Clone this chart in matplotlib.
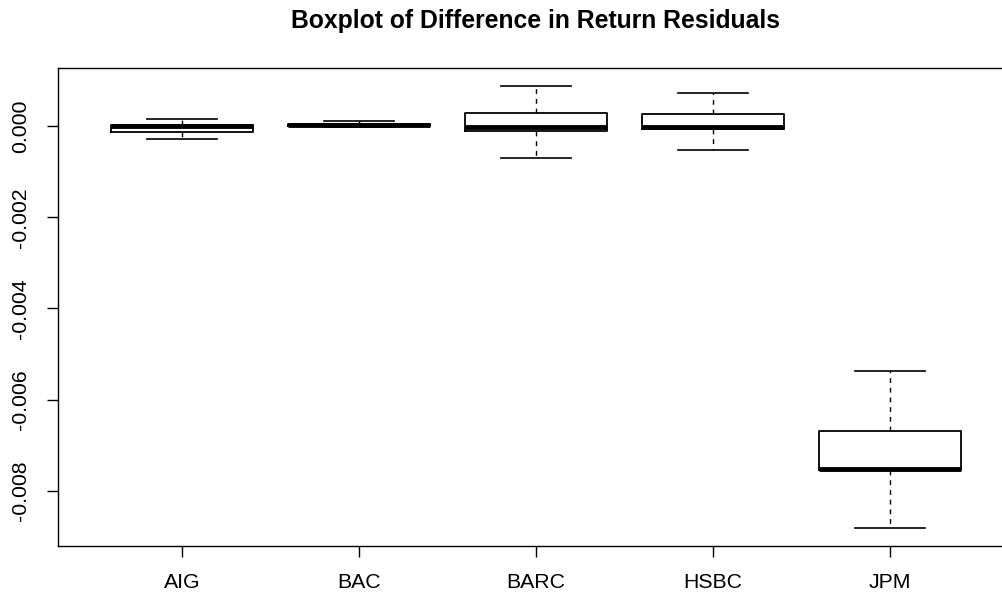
import matplotlib
matplotlib.use("Agg")
import matplotlib.pyplot as plt

plt.rcParams['font.family'] = ['Liberation Sans', 'DejaVu Sans']

# data
names = ['AIG', 'BAC', 'BARC', 'HSBC', 'JPM']
whis_hi = [0.000153, 0.00011, 0.000877, 0.00073, -0.00537]
q3 = [0.00002, 0.00005, 0.000278, 0.000257, -0.00668]
med = [0.0, 0.00002, -0.000015, -0.00002, -0.00752]
q1 = [-0.00013, -0.00001, -0.000103, -0.00007, -0.00754]
whis_lo = [-0.00029, -0.00003, -0.000695, -0.000526, -0.00881]

yticks = [0.0, -0.002, -0.004, -0.006, -0.008]
ytick_labels = ['0.000', '-0.002', '-0.004', '-0.006', '-0.008']

stats = []
for i in range(len(names)):
    stats.append({'label': names[i], 'whislo': whis_lo[i], 'q1': q1[i], 'med': med[i],
                  'q3': q3[i], 'whishi': whis_hi[i], 'fliers': []})

fig = plt.figure(figsize=(10.03, 5.96), dpi=100)
ax = fig.add_axes([58 / 1003, 1 - 545.7 / 596, 956 / 1003, (545.7 - 68) / 596])

ax.bxp(stats, positions=range(1, len(names) + 1), widths=0.8, showfliers=False,
       boxprops=dict(color='black', linewidth=1.3),
       medianprops=dict(color='black', linewidth=3.5, solid_capstyle='butt'),
       whiskerprops=dict(color='black', linewidth=1.0, linestyle=(0, (3.5, 3.5))),
       capprops=dict(color='black', linewidth=1.2),
       capwidths=0.4)

ax.set_xlim(0.3, 5.7)
ax.set_ylim(-0.0092, 0.00127)
ax.set_yticks(yticks)
ax.set_yticklabels(ytick_labels, rotation=90, va='center')
ax.tick_params(axis='both', length=8, width=1, labelsize=15.3, pad=12)
ax.tick_params(axis='x', pad=11.5)
for s in ax.spines.values():
    s.set_linewidth(1)
ax.spines['right'].set_visible(False)

fig.text(536 / 1003, 1 - 21 / 596, 'Boxplot of Difference in Return Residuals',
         ha='center', va='center', fontsize=17.8, fontweight='bold')

fig.savefig('out.png', dpi=100)
